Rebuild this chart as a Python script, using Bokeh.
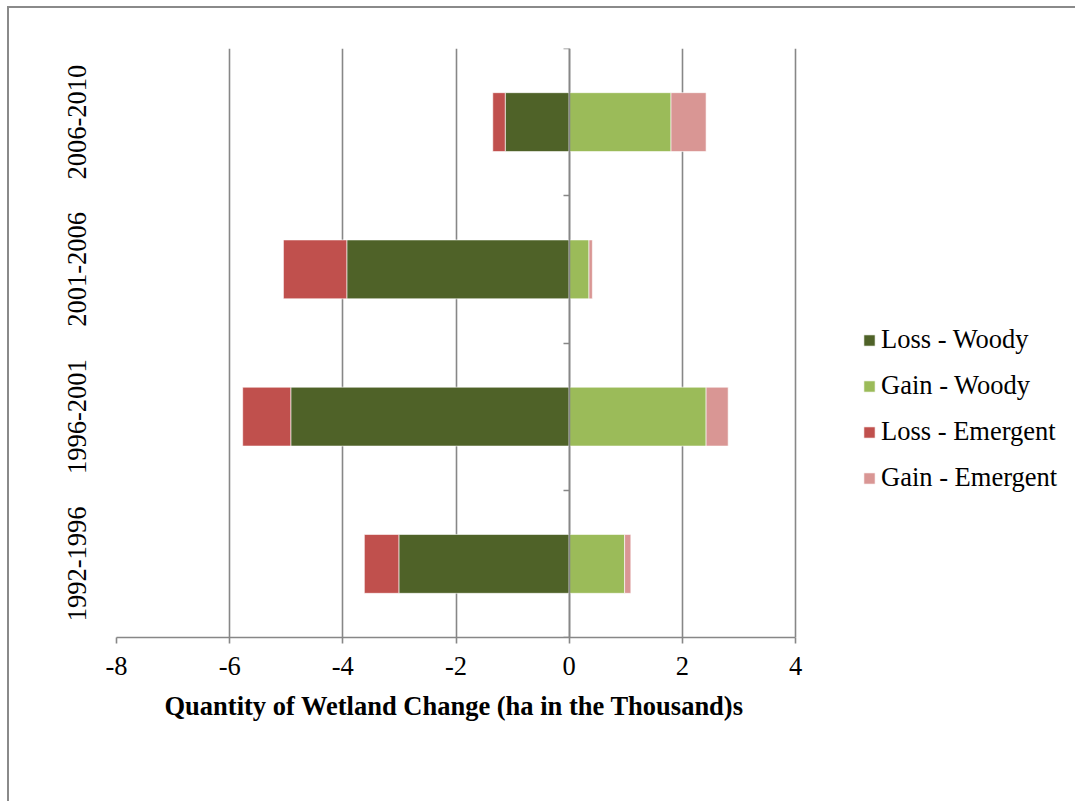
from bokeh.plotting import figure
from bokeh.models import (ColumnDataSource, Range1d, LinearAxis, FixedTicker,
                          Legend, LegendItem, Title)
from bokeh.embed import file_html
from bokeh.resources import INLINE

# Wetland change per period, thousands of hectares
periods = ["1992-1996", "1996-2001", "2001-2006", "2006-2010"]
loss_woody = [-3.01, -4.92, -3.93, -1.13]
gain_woody = [0.98, 2.42, 0.35, 1.80]
loss_emergent = [-0.61, -0.85, -1.12, -0.22]
gain_emergent = [0.11, 0.39, 0.06, 0.62]
x_ticks = [-8, -6, -4, -2, 0, 2, 4]

FONT = "Liberation Serif"
FS = "26.5px"
GRID = "#878787"
colors = {"lw": "#4F6228", "gw": "#9BBB59", "le": "#C0504D", "ge": "#D99694"}

X_MIN, X_MAX = x_ticks[0], x_ticks[-1]
PX_PER_UNIT = 679 / (X_MAX - X_MIN)
# the frame runs on to the right edge so the legend can sit beside the axes
x_end = X_MIN + 961 / PX_PER_UNIT

ypos = [i + 0.5 for i in range(len(periods))]
src = ColumnDataSource(dict(y=ypos, lw=loss_woody, le=loss_emergent,
                            gw=gain_woody, ge=gain_emergent))

p = figure(width=1068, height=795, output_backend="svg", toolbar_location=None,
           x_range=Range1d(X_MIN, x_end), y_range=Range1d(0, len(periods)),
           y_axis_location=None,
           min_border_left=107, min_border_right=0,
           min_border_top=40, min_border_bottom=166)
p.styles = {"margin-left": "7px", "margin-top": "6px",
            "border-left": "2px solid #8a8a8a", "border-top": "2px solid #8a8a8a"}
p.outline_line_color = None
p.background_fill_color = "white"

# bars: losses stacked leftwards, gains stacked rightwards
bar_kw = dict(y="y", height=0.4, source=src, line_color="white", line_alpha=0.6,
              line_width=1)
r_loss = p.hbar_stack(["lw", "le"], color=[colors["lw"], colors["le"]], **bar_kw)
r_gain = p.hbar_stack(["gw", "ge"], color=[colors["gw"], colors["ge"]], **bar_kw)

# x axis
xa = p.xaxis[0]
xa.bounds = (X_MIN, X_MAX)
xa.ticker = FixedTicker(ticks=x_ticks)
xa.major_label_overrides = {t: str(t) for t in x_ticks}
xa.axis_line_color = GRID
xa.axis_line_width = 1.6
xa.major_tick_line_color = GRID
xa.major_tick_line_width = 1.6
xa.major_tick_out = 6
xa.major_tick_in = 0
xa.minor_tick_line_color = None
xa.major_label_text_font = FONT
xa.major_label_text_font_size = FS
xa.major_label_text_color = "black"
xa.major_label_standoff = 13

# axis title, centred under the -8..4 span
title = Title(text="Quantity of Wetland Change (ha in the Thousand)s",
              align="left", offset=48, standoff=22,
              text_font=FONT, text_font_size=FS, text_font_style="bold",
              text_color="black")
p.add_layout(title, "below")

p.xgrid.ticker = FixedTicker(ticks=x_ticks)
p.xgrid.grid_line_color = GRID
p.xgrid.grid_line_width = 1.6
p.ygrid.grid_line_color = None

# period labels on the left
ya = LinearAxis(ticker=FixedTicker(ticks=ypos),
                major_label_overrides={y: lab for y, lab in zip(ypos, periods)})
ya.axis_line_color = None
ya.major_tick_line_color = None
ya.minor_tick_line_color = None
ya.major_label_orientation = "vertical"
ya.major_label_text_font = FONT
ya.major_label_text_font_size = FS
ya.major_label_text_color = "black"
ya.major_label_standoff = 25
p.add_layout(ya, "left")

# category axis crossing at zero, ticks between periods
bounds_y = list(range(len(periods) + 1))
za = LinearAxis(fixed_location=0, ticker=FixedTicker(ticks=bounds_y),
                major_label_overrides={b: "" for b in bounds_y})
za.axis_line_color = GRID
za.axis_line_width = 1.6
za.major_tick_line_color = GRID
za.major_tick_line_width = 1.6
za.major_tick_out = 6
za.major_tick_in = 0
za.minor_tick_line_color = None
p.add_layout(za, "left")

legend = Legend(items=[
    LegendItem(label="Loss - Woody", renderers=[r_loss[0]]),
    LegendItem(label="Gain - Woody", renderers=[r_gain[0]]),
    LegendItem(label="Loss - Emergent", renderers=[r_loss[1]]),
    LegendItem(label="Gain - Emergent", renderers=[r_gain[1]]),
], location=(746, 144))
legend.glyph_width = 14
legend.glyph_height = 14
legend.label_height = 30
legend.spacing = 15
legend.padding = 0
legend.margin = 0
legend.label_standoff = 5
legend.label_text_font = FONT
legend.label_text_font_size = FS
legend.label_text_color = "black"
legend.border_line_color = None
legend.background_fill_alpha = 0
p.add_layout(legend, "center")

open("out.html", "w").write(file_html(p, INLINE))
